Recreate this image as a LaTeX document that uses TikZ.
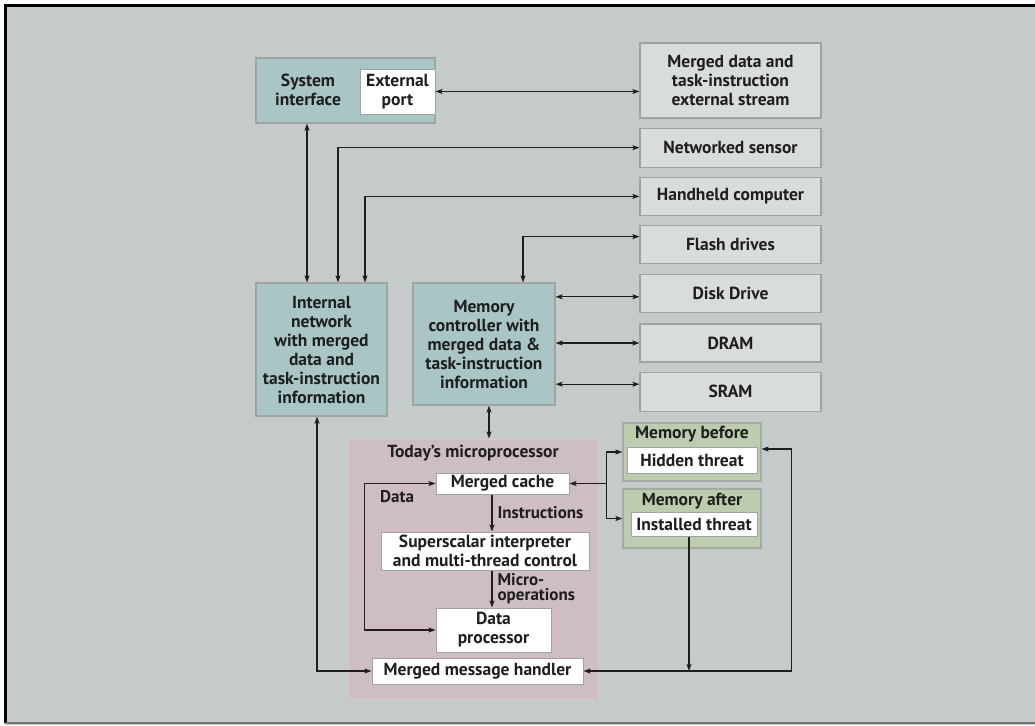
\documentclass[tikz,border=0pt]{standalone}
\usepackage{fontspec}
\setmainfont{PT Sans}
\usetikzlibrary{positioning,arrows.meta}
\definecolor{bgcolor}{HTML}{C5CBCA}
\definecolor{devcolor}{HTML}{D9DCDC}
\definecolor{unitcolor}{HTML}{A9C5C5}
\definecolor{chipcolor}{HTML}{CFBDC5}
\definecolor{chipedge}{HTML}{D8C6CE}
\definecolor{memcolor}{HTML}{BDCCAF}
\definecolor{edgecolor}{HTML}{9EA3A3}
\definecolor{inkcolor}{HTML}{1E1E1E}
\newcommand{\boxfont}{\fontsize{17.5}{19}\selectfont\bfseries}
\newcommand{\lblfont}{\fontsize{17}{15}\selectfont\bfseries}
\tikzset{
  dev/.style={draw=edgecolor, line width=1.2pt, fill=devcolor, minimum width=181pt, font=\boxfont, text=inkcolor, align=center, inner sep=2pt},
  unit/.style={draw=edgecolor, line width=1.2pt, fill=unitcolor, font=\boxfont, text=inkcolor, align=center, inner sep=2pt},
  blk/.style={draw=edgecolor, line width=1pt, fill=white, font=\boxfont, text=inkcolor, align=center, inner sep=1pt},
  mem/.style={draw=edgecolor!80!memcolor, line width=1.2pt, fill=memcolor, inner sep=0pt},
  chip/.style={draw=chipedge, line width=1pt, fill=chipcolor, inner sep=0pt},
  ttl/.style={font=\boxfont, text=inkcolor, align=center, inner sep=1pt},
  lbl/.style={font=\lblfont, text=inkcolor, align=left, inner sep=1pt},
  flow/.style={-{Stealth[length=7pt, width=5pt, inset=1.5pt]}, line width=1.2pt, draw=inkcolor},
  bi/.style={{Stealth[length=7pt, width=5pt, inset=1.5pt]}-{Stealth[length=7pt, width=5pt, inset=1.5pt]}, line width=1.2pt, draw=inkcolor},
}
\begin{document}
\begin{tikzpicture}[x=1pt, y=-1pt]
\useasboundingbox (0,0) rectangle (1035,725);
\fill[bgcolor] (4,4) rectangle (1035,725);
\draw[line width=3pt] (5.5,723) -- (5.5,5.5) -- (1035,5.5);
\draw[edgecolor!70!black, line width=2pt] (5.5,723) -- (1035,723);
\node[unit, minimum width=179pt, minimum height=65pt] (sysif) at (345.5,90.5) {};
\node[ttl] (systxt) at (308,90) {System\\interface};
\node[blk, minimum width=75pt, minimum height=45pt] (extport) at (397.5,91.5) {External\\port};
\node[dev, minimum height=75pt] (stream) at (730.5,80.5) {Merged data and\\task-instruction\\external stream};
\node[dev, minimum height=39pt, below=9pt of stream] (sensor) {Networked sensor};
\node[dev, minimum height=38pt, below=9pt of sensor] (handheld) {Handheld computer};
\node[dev, minimum height=38pt, below=9pt of handheld] (flash) {Flash drives};
\node[dev, minimum height=38pt, below=10pt of flash] (disk) {Disk Drive};
\node[dev, minimum height=38pt, below=10pt of disk] (dram) {DRAM};
\node[dev, minimum height=39pt, below=9pt of dram] (sram) {SRAM};
\node[unit, minimum width=131pt, minimum height=133pt] (intnet) at (321.5,349.5) {Internal\\network\\with merged\\data and\\task-instruction\\information};
\node[unit, minimum width=142pt, minimum height=122pt] (memctrl) at (484,344) {Memory\\controller with\\merged data \&\\task-instruction\\information};
\node[chip, minimum width=250pt, minimum height=260pt] (micro) at (473,569) {};
\node[ttl] (microttl) at (473,453) {Today's microprocessor};
\node[blk, minimum width=133pt, minimum height=21pt] (cache) at (502.5,483.5) {Merged cache};
\node[blk, minimum width=208pt, minimum height=38pt] (ssi) at (485,551) {Superscalar interpreter\\and multi-thread control};
\node[blk, minimum width=115pt, minimum height=44pt] (dproc) at (493.5,630) {Data\\processor};
\node[blk, minimum width=211pt, minimum height=26pt] (msgh) at (477.5,671) {Merged message handler};
\node[lbl, anchor=north west] (datalbl) at (379,489) {Data};
\node[mem, minimum width=138pt, minimum height=58pt] (membef) at (692,452) {};
\node[ttl] (befttl) at (692,434) {Memory before};
\node[blk, minimum width=130pt, minimum height=26pt] (hidden) at (692,460) {Hidden threat};
\node[mem, minimum width=138pt, minimum height=59pt] (memaft) at (692,518.5) {};
\node[ttl] (aftttl) at (692,501) {Memory after};
\node[blk, minimum width=126pt, minimum height=24pt] (installed) at (694,524) {Installed threat};
\path ([yshift=-3pt]disk.west) coordinate (diskin);
\path ([yshift=7.5pt]sram.west) coordinate (sramin);
\path (cache.east) ++(37,0) coordinate (split);
\draw[bi] (extport.east) -- (extport.east -| stream.west);
\draw[bi] ([xshift=-14.5pt]intnet.north) -- ([xshift=-14.5pt]intnet.north |- sysif.south);
\draw[bi] ([xshift=16.5pt]intnet.north) |- (sensor.west);
\draw[bi] ([xshift=43.5pt]intnet.north) |- (handheld.west);
\draw[bi] ([xshift=39pt]memctrl.north) |- ([yshift=8pt]flash.west);
\draw[bi] (diskin -| memctrl.east) -- (diskin);
\draw[bi] (dram.west -| memctrl.east) -- (dram.west);
\draw[bi] (sramin -| memctrl.east) -- (sramin);
\draw[bi] ([xshift=5pt]memctrl.south) -- ([xshift=5pt]memctrl.south |- micro.north);
\draw[flow] ([xshift=-10.5pt]cache.south) -- ([xshift=-10.5pt]cache.south |- ssi.north) node[lbl, midway, right=4pt] {Instructions};
\draw[flow] ([xshift=-10.5pt]cache.south |- ssi.south) -- ([xshift=-10.5pt]cache.south |- dproc.north) node[lbl, midway, right=4pt] {Micro-\\operations};
\draw[bi] (cache.west) -- ++(-71,0) |- (dproc.west);
\draw[flow] (split) -- (cache.east);
\draw[flow] (split) |- (membef.west);
\draw[flow] (split) |- (memaft.west);
\draw[bi] (msgh.east) -- ++(208,0) |- ([yshift=3pt]membef.east);
\draw[flow] ([xshift=-5pt]installed.south) -- ([xshift=-5pt]installed.south |- msgh.east);
\draw[bi] ([xshift=-4.5pt]intnet.south) |- (msgh.west);
\end{tikzpicture}
\end{document}
